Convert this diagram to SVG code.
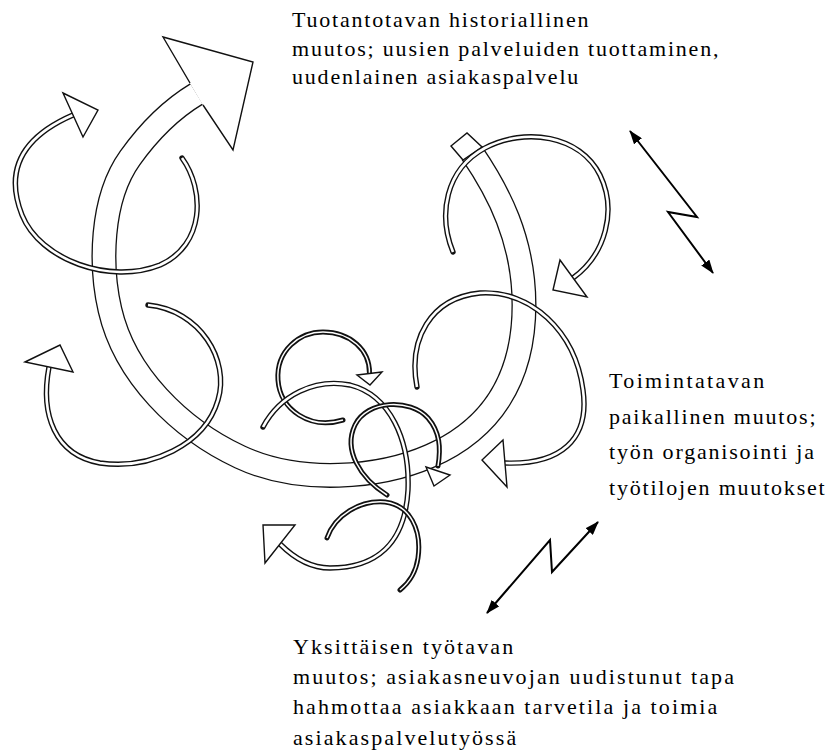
<svg xmlns="http://www.w3.org/2000/svg" width="835" height="753" viewBox="0 0 835 753">
<style>
.bo{fill:none;stroke:#111;stroke-width:25}
.bi{fill:none;stroke:#fff;stroke-width:22.4}
.o{fill:none;stroke:#111;stroke-width:5.4;stroke-linecap:round}
.i{fill:none;stroke:#fff;stroke-width:2.6}
.od{fill:none;stroke:#111;stroke-width:5;stroke-linecap:round}
.id{fill:none;stroke:#fff;stroke-width:1.5}
.head{fill:#fff;stroke:#111;stroke-width:1.4;stroke-linejoin:miter}
.bolt{fill:none;stroke:#000;stroke-width:2;marker-start:url(#ah);marker-end:url(#ah)}
text{font-family:"Liberation Serif","Times New Roman",serif;font-size:22px;fill:#000;letter-spacing:1.8px}
.b{letter-spacing:2.1px}
</style>
<defs>
<marker id="ah" viewBox="0 0 14 10" refX="13" refY="5" markerWidth="14" markerHeight="10" markerUnits="userSpaceOnUse" orient="auto-start-reverse">
<path d="M0,0 L14,5 L0,10 z" fill="#000"/>
</marker>
<path id="pBand" d="M472,153 C498,191 524,240 524,305 C524,380 490,430 430,456 C380,478 300,485 240,457 C180,429 125,375 110,310 C100,267 100,200 130,158 C145,137 165,113 196.5,94"/>
<path id="pA" d="M182,158 C205,190 205,245 160,265 C110,285 40,260 22,215 C5,172 20,138 73,115"/>
<path id="pB" d="M148,305 C200,310 230,360 218,400 C205,445 150,470 100,463 C55,455 40,415 49,367"/>
<path id="pC" d="M453,252 C438,215 445,170 485,148 C525,127 580,135 600,175 C617,210 606,254 573,278"/>
<path id="pD" d="M417,387 C408,340 430,298 480,293 C530,290 575,330 583,390 C590,440 560,465 505,463"/>
<path id="pE" d="M343,420 C310,430 280,410 278,380 C276,350 300,332 323,332 C350,332 370,350 369.5,373.5"/>
<path id="pF" d="M263,427 C280,395 315,378 350,385 C390,395 410,440 408,490 C405,545 375,568 330,568 C310,568 292,556 280,544"/>
<path id="pG" d="M387,495 C360,478 343,450 355,425 C367,400 410,398 428,418 C440,432 441,448 438,466"/>
<path id="pH" d="M327,538 C335,515 360,500 385,502 C410,505 422,530 418,558 C416,572 410,582 400,590"/>
</defs>

<g id="main-arrow">
<use href="#pBand" class="bo"/>
<use href="#pBand" class="bi"/>
<path class="head" d="M190,83 L163,37 L253,62 L233,150 L203,105"/>
<path class="head" d="M451,146 L467,133 L482,147 L463,160 Z"/>
</g>

<g id="loop-top-left">
<use href="#pA" class="o"/><use href="#pA" class="i"/>
<path class="head" d="M63,93 L98,110 L83,137 Z"/>
</g>
<g id="loop-left">
<use href="#pB" class="o"/><use href="#pB" class="i"/>
<path class="head" d="M25,362 L60,345 L73,372 Z"/>
</g>
<g id="loop-right-top">
<use href="#pC" class="o"/><use href="#pC" class="i"/>
<path class="head" d="M560,260 L553,290 L587,297 Z"/>
</g>
<g id="loop-right">
<use href="#pD" class="o"/><use href="#pD" class="i"/>
<path class="head" d="M503,440 L482,460 L507,487 Z"/>
</g>
<g id="loop-small-1">
<use href="#pE" class="od"/><use href="#pE" class="id"/>
<path class="head" d="M357,375 L382,372 L370,385 Z"/>
</g>
<g id="loop-small-2">
<use href="#pF" class="o"/><use href="#pF" class="i"/>
<path class="head" d="M263,525 L295,525 L265,563 Z"/>
</g>
<g id="loop-small-3">
<use href="#pG" class="od"/><use href="#pG" class="id"/>
<path class="head" d="M426,467 L450,475 L434,486 Z"/>
</g>
<g id="loop-small-4">
<use href="#pH" class="od"/><use href="#pH" class="id"/>
</g>

<g id="connectors">
<path class="bolt" d="M630,131 L697,217 L668,212 L713,273"/>
<path class="bolt" d="M487,613 L550,540 L552,572 L598,522"/>
</g>

<g id="label-top">
<text x="292" y="27">Tuotantotavan historiallinen</text>
<text x="292" y="56">muutos; uusien palveluiden tuottaminen,</text>
<text x="292" y="84">uudenlainen asiakaspalvelu</text>
</g>
<g id="label-right">
<text x="609" y="388" textLength="157" lengthAdjust="spacing">Toimintatavan</text>
<text x="609" y="424">paikallinen muutos;</text>
<text x="609" y="459">työn organisointi ja</text>
<text x="609" y="495">työtilojen muutokset</text>
</g>
<g id="label-bottom">
<text class="b" x="293" y="654">Yksittäisen työtavan</text>
<text class="b" x="293" y="684">muutos; asiakasneuvojan uudistunut tapa</text>
<text class="b" x="293" y="714">hahmottaa asiakkaan tarvetila ja toimia</text>
<text class="b" x="293" y="745">asiakaspalvelutyössä</text>
</g>
</svg>
